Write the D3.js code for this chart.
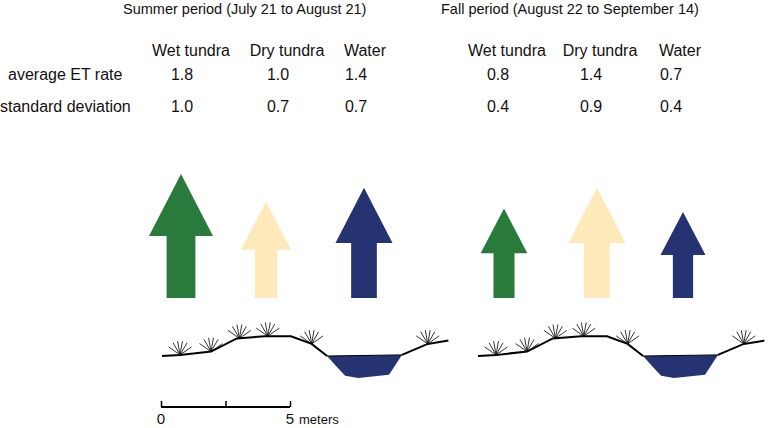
<!DOCTYPE html>
<html><head><meta charset="utf-8">
<script src="https://cdn.jsdelivr.net/npm/d3@7"></script>
<style>body{margin:0;background:#fff}text{font-family:"Liberation Sans",Arial,sans-serif;font-size:14px;fill:#111}.tb{font-size:16px}</style>
</head><body><svg id="c" width="769" height="428"></svg>
<script>
// data
var periods = ["Summer period (July 21 to August 21)", "Fall period (August 22 to September 14)"];
var classes = ["Wet tundra", "Dry tundra", "Water"];
var rowLabels = ["average ET rate", "standard deviation"];
var summerMean = [1.8, 1.0, 1.4];
var summerSd = [1.0, 0.7, 0.7];
var fallMean = [0.8, 1.4, 0.7];
var fallSd = [0.4, 0.9, 0.4];
var colors = ["#2a7a3b", "#fde9b9", "#253373"];
// terrain profile in meters (distance, elevation)
var ground = [[0,0],[0.7,0.1],[1.9,0.4],[2.9,1.6],[4.0,1.8],[5.0,1.8],[5.8,1.1],[6.4,0]];
var waterTop = [[6.4,0],[9.3,0.1]];
var waterBottom = [[6.7,-0.8],[7.1,-1.8],[7.6,-2.0],[8.8,-1.7],[9.3,0.1]];
var bank = [[9.3,0.1],[10.3,1.1],[11.1,1.4]];
var tufts = [[0.7,0.1],[1.9,0.4],[3.0,1.6],[4.1,1.8],[5.8,1.1],[10.3,1.1]];

var svg = d3.select("#c");
var x0 = [0, 316];
var colX = [[191, 287, 365], [507, 600, 680]];
var means = [summerMean, fallMean], sds = [summerSd, fallSd];

svg.selectAll(".ptitle").data(periods).enter().append("text")
  .attr("x", (d, i) => [123, 441][i]).attr("y", 14).style("font-size", "14.5px").text(d => d);
svg.selectAll(".rl").data(rowLabels).enter().append("text").attr("class", "tb")
  .attr("x", (d, i) => [8, 0][i]).attr("y", (d, i) => [80, 112][i]).text(d => d);

var hScale = d3.scaleLinear().domain([0.7, 1.8]).range([86, 124]);
var wScale = d3.scaleLinear().domain([0.7, 1.8]).range([45, 64]);
var xs = d3.scaleLinear().domain([0, 10]).range([0, 258]);
var ys = d3.scaleLinear().domain([0, 1]).range([356, 345]);
var line = d3.line().x(d => xs(d[0])).y(d => ys(d[1]));

[0, 1].forEach(function (p) {
  var g = svg.append("g");
  g.selectAll(".h").data(classes).enter().append("text").attr("class", "tb")
    .attr("x", (d, i) => colX[p][i]).attr("y", 56).attr("text-anchor", "middle").text(d => d);
  [means[p], sds[p]].forEach(function (arr, r) {
    g.selectAll(".v" + r).data(arr).enter().append("text").attr("class", "tb")
      .attr("x", (d, i) => colX[p][i] - 9).attr("y", [80, 112][r]).attr("text-anchor", "middle")
      .text(d => d.toFixed(1));
  });
  // arrows
  var ax = p === 0 ? [181, 266, 364] : [504, 597, 683];
  g.selectAll(".arr").data(means[p]).enter().append("path")
    .attr("fill", (d, i) => colors[i])
    .attr("d", function (d, i) {
      var h = hScale(d), w = wScale(d), sw = w * 0.45, hh = h * 0.5, cx = ax[i], b = 298;
      return "M" + (cx - sw / 2) + "," + b + "L" + (cx - sw / 2) + "," + (b - h + hh) +
        "L" + (cx - w / 2) + "," + (b - h + hh) + "L" + cx + "," + (b - h) +
        "L" + (cx + w / 2) + "," + (b - h + hh) + "L" + (cx + sw / 2) + "," + (b - h + hh) +
        "L" + (cx + sw / 2) + "," + b + "Z";
    });
  // terrain
  var t = g.append("g").attr("transform", "translate(" + (162 + x0[p]) + ",0)");
  t.append("path").attr("d", line(waterTop.concat(waterBottom.slice().reverse()))).attr("fill", colors[2]);
  t.append("path").attr("d", line(ground)).attr("fill", "none").attr("stroke", "#000").attr("stroke-width", 2);
  t.append("path").attr("d", line(bank)).attr("fill", "none").attr("stroke", "#000").attr("stroke-width", 2);
  t.append("path").attr("d", line(waterTop)).attr("fill", "none").attr("stroke", "#000").attr("stroke-width", 1);
  tufts.forEach(function (q) {
    var bx = xs(q[0]), by = ys(q[1]);
    [-55, -30, -10, 10, 30, 55].forEach(function (a) {
      var r = a * Math.PI / 180;
      t.append("line").attr("x1", bx).attr("y1", by)
        .attr("x2", bx + 14 * Math.sin(r)).attr("y2", by - 14 * Math.cos(r))
        .attr("stroke", "#000").attr("stroke-width", 0.8);
    });
  });
});

// scale bar
var sb = d3.scaleLinear().domain([0, 5]).range([161, 290]);
var axis = d3.axisTop(sb).tickValues([0, 2.5, 5]).tickSize(6).tickFormat("");
var ag = svg.append("g").attr("transform", "translate(0,407)").call(axis);
ag.select(".domain").attr("stroke-width", 2).attr("d", "M161,0H290");
ag.selectAll("line").attr("stroke-width", 1.5);
svg.append("text").attr("x", sb(0)).attr("y", 424).attr("text-anchor", "middle").style("font-size", "15px").text("0");
svg.append("text").attr("x", sb(5)).attr("y", 424).attr("text-anchor", "middle").style("font-size", "15px").text("5");
svg.append("text").attr("x", 299).attr("y", 424).style("font-size", "13px").text("meters");
</script></body></html>
